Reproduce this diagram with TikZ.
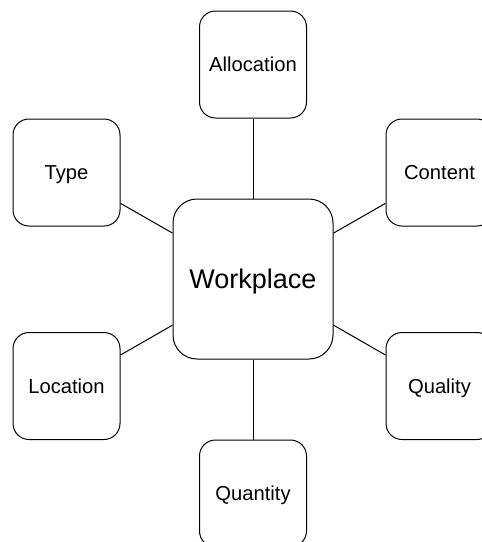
\documentclass[tikz,border=0pt]{standalone}
\usepackage{fontspec}
\setmainfont{Liberation Sans}
\usetikzlibrary{positioning}

\begin{document}
\begin{tikzpicture}
          [x=1pt, y=1pt,
           line width=1pt,
           facet/.style={draw, rounded corners=16pt, minimum width=107pt, minimum height=107pt,
                         text height=14.3pt, text depth=0pt, inner sep=0pt,
                         font=\fontsize{20.2}{24}\selectfont},
           hub/.style={draw, rounded corners=24pt, minimum width=160pt, minimum height=160pt,
                       text height=19.5pt, text depth=0pt, inner sep=0pt,
                       font=\fontsize{27}{32}\selectfont}]
          \useasboundingbox (0,0) rectangle (482,-542);

          \node (work) [hub] at (253,-279) {Workplace};

          \node (alloc) [facet, above = 80pt of work] {Allocation};
          \node (quant) [facet, below = 80pt of work] {Quantity};
          \node (type) [facet, left = 52pt of work, yshift=106.5pt] {Type};
          \node (loc) [facet, left = 52pt of work, yshift=-107pt] {Location};
          \node (cont) [facet, right = 52pt of work, yshift=106.5pt] {Content};
          \node (qual) [facet, right = 52pt of work, yshift=-107pt] {Quality};

          \draw (alloc) -- (work);
          \draw (quant) -- (work);
          \draw (type) -- (work);
          \draw (loc) -- (work);
          \draw (cont) -- (work);
          \draw (qual) -- (work);

        \end{tikzpicture}
\end{document}
